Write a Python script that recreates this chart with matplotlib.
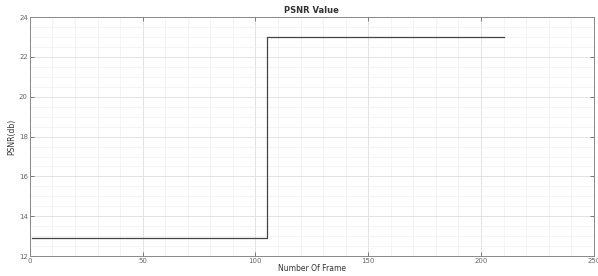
import matplotlib.pyplot as plt
from matplotlib.ticker import MultipleLocator

# ---------------- DATA ----------------
frames = list(range(1, 211))
psnr = [12.9] * 104 + [23.0] * 106
x_ticks = [0, 50, 100, 150, 200, 250]
y_ticks = [12, 14, 16, 18, 20, 22, 24]

# ---------------- PLOT ----------------
fig = plt.figure(figsize=(5.98, 2.76), dpi=100)
ax = fig.add_axes([0.050, 0.072, 0.943, 0.866])

ax.plot(frames, psnr, color="#444444", linewidth=0.9, drawstyle="steps-post")

ax.set_xlim(0, 250)
ax.set_ylim(12, 24)
ax.set_xticks(x_ticks)
ax.set_yticks(y_ticks)
ax.xaxis.set_minor_locator(MultipleLocator(10))
ax.yaxis.set_minor_locator(MultipleLocator(0.5))
ax.grid(which="major", color="#dddddd", linewidth=0.6)
ax.grid(which="minor", color="#f0f0f0", linewidth=0.5)
ax.set_axisbelow(True)

ax.tick_params(which="major", direction="in", length=3, labelsize=5,
               colors="#666666", top=True, right=True, width=0.6, pad=1.5)
ax.tick_params(which="minor", length=0)
for s in ax.spines.values():
    s.set_color("#888888")
    s.set_linewidth(0.7)

ax.set_title("PSNR Value", fontsize=6, fontweight="bold", color="#333333", pad=3)
ax.set_xlabel("Number Of Frame", fontsize=5.5, color="#333333", labelpad=0)
ax.set_ylabel("PSNR(db)", fontsize=5.5, color="#333333", labelpad=2)

fig.savefig("out.png", dpi=100)
